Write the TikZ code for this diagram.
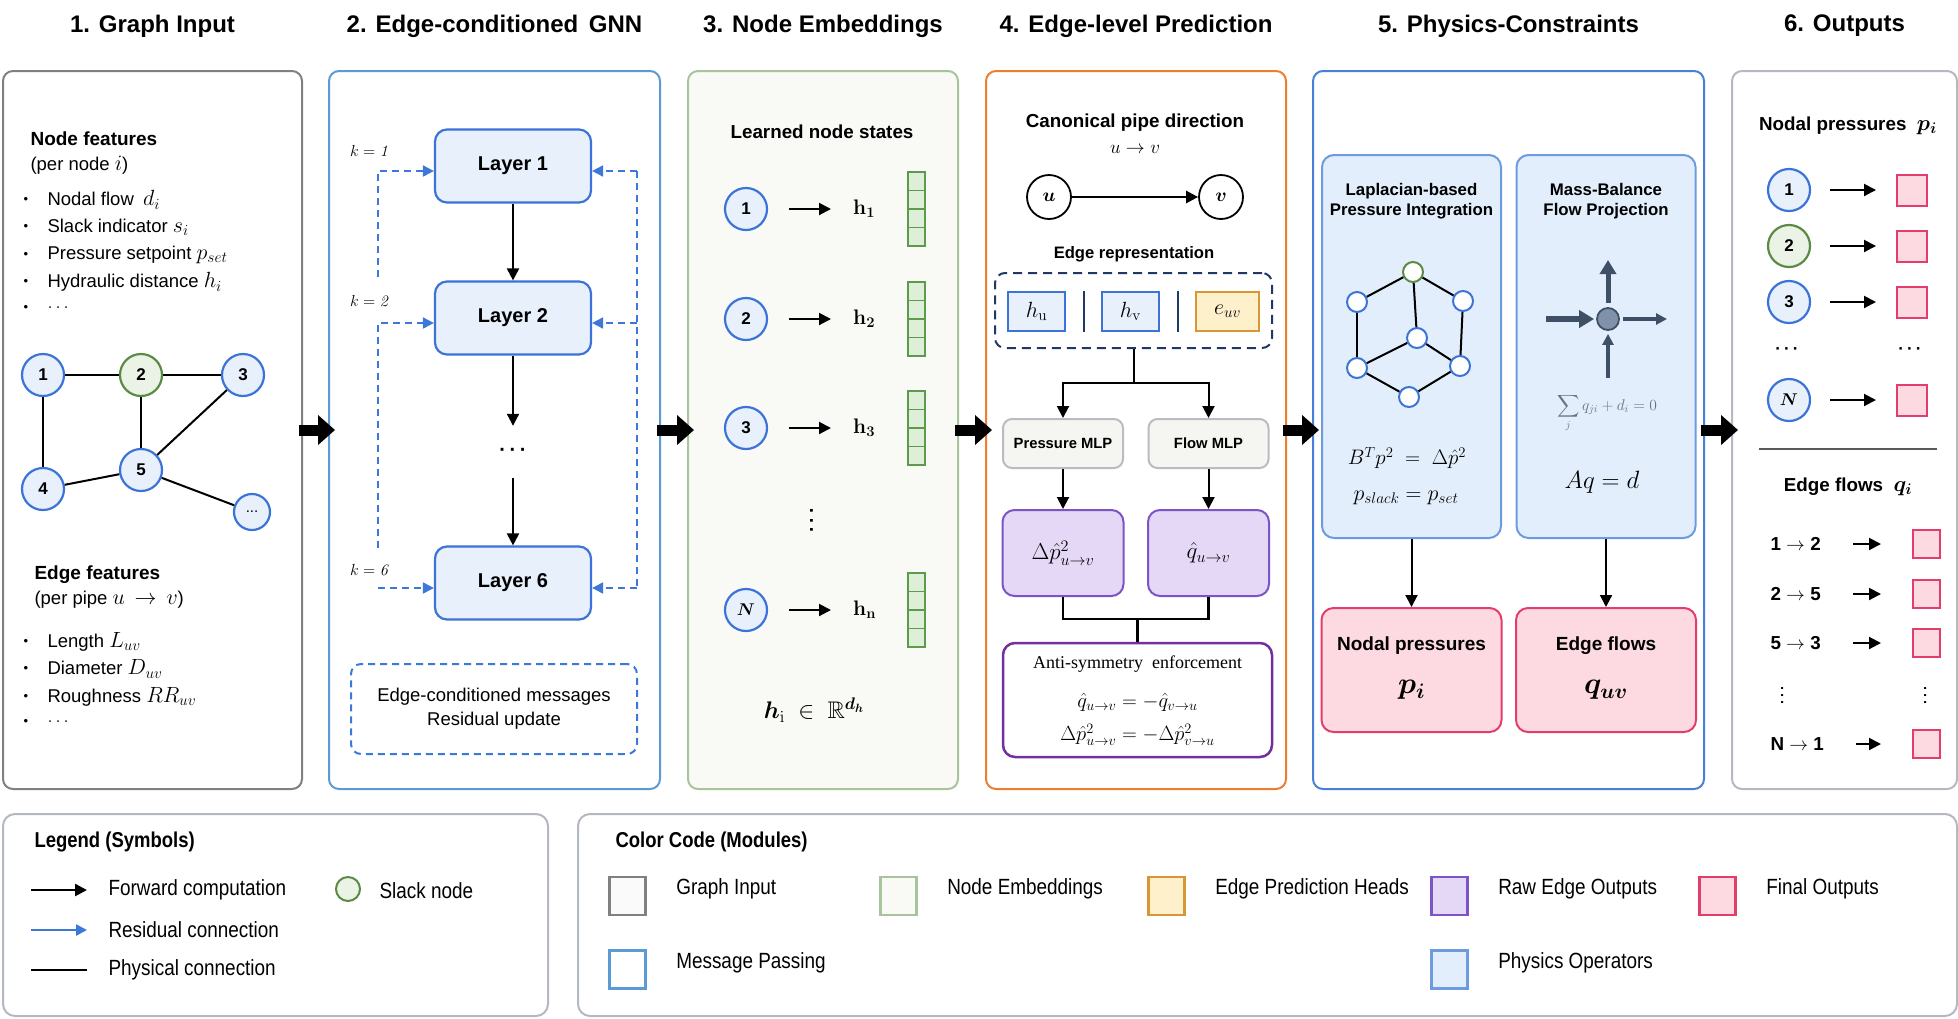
\RequirePackage{fix-cm}
\documentclass[tikz,border=0pt]{standalone}
\usepackage{amsmath}
\usepackage{amssymb}
\usepackage[no-math]{fontspec}
\setmainfont{Liberation Sans}
\newfontfamily\seriffont{Liberation Serif}
\newfontfamily\narrowsans[FakeStretch=0.86]{Liberation Sans}
\usepackage{tikz}
\usetikzlibrary{arrows.meta}
\usetikzlibrary{calc}
\usetikzlibrary{positioning}

\definecolor{inputgray}{HTML}{808080}
\definecolor{inputfill}{HTML}{FAFAFA}
\definecolor{mpblue}{HTML}{5B9BD5}
\definecolor{embgreen}{HTML}{A9C49A}
\definecolor{embfill}{HTML}{F9F9F6}
\definecolor{edgeorange}{HTML}{ED7D31}
\definecolor{physblue}{HTML}{4A7FD8}
\definecolor{outgray}{HTML}{B4B8C0}
\definecolor{nodeblue}{HTML}{3B73D9}
\definecolor{nodefill}{HTML}{E8F0FC}
\definecolor{resblue}{HTML}{3C78D8}
\definecolor{slackgreen}{HTML}{5B8A45}
\definecolor{slackfill}{HTML}{EBF3E6}
\definecolor{cellgreen}{HTML}{5E9A4E}
\definecolor{cellfill}{HTML}{DDEFD6}
\definecolor{mlpgray}{HTML}{B8BCC4}
\definecolor{mlpfill}{HTML}{F5F6F1}
\definecolor{rawpurple}{HTML}{7B55C6}
\definecolor{rawfill}{HTML}{E5D8F6}
\definecolor{antipurple}{HTML}{7030A0}
\definecolor{repnavy}{HTML}{1F3864}
\definecolor{headorange}{HTML}{D99634}
\definecolor{headfill}{HTML}{FFF0CC}
\definecolor{opblue}{HTML}{6C9BE0}
\definecolor{opfill}{HTML}{E3EEFC}
\definecolor{finalred}{HTML}{E43D6B}
\definecolor{finalfill}{HTML}{FDD9E1}
\definecolor{slate}{HTML}{3F4F66}
\definecolor{slatefill}{HTML}{8092AA}
\definecolor{sumgray}{HTML}{6B7280}
\definecolor{rulegray}{HTML}{595959}

\newcommand{\middots}{\textbf{·\kern0.18em·\kern0.18em·}}
\newcommand{\featmath}[1]{{\fontsize{22}{22}\selectfont$#1$}}

\begin{document}
\begin{tikzpicture}[x=1pt, y=-1pt,
  panel/.style={draw, line width=2pt, rounded corners=10pt, fill=white, inner sep=0pt, minimum height=718pt, anchor=north west},
  title/.style={font=\bfseries\fontsize{24}{28}\selectfont},
  head/.style={font=\bfseries\fontsize{19}{22}\selectfont},
  body/.style={font=\fontsize{18.5}{22}\selectfont},
  sub/.style={font=\bfseries\fontsize{18.8}{22}\selectfont},
  gnode/.style={circle, draw=nodeblue, fill=nodefill, line width=2.2pt, minimum size=42pt, inner sep=0pt, font=\bfseries\fontsize{17}{17}\selectfont},
  gslack/.style={gnode, draw=slackgreen, fill=slackfill},
  phys/.style={line width=2pt},
  fwd/.style={line width=2pt, -{Triangle[length=12pt,width=12pt]}},
  res/.style={draw=resblue, line width=2pt, dash pattern=on 7pt off 5pt},
  resarrow/.style={res, -{Triangle[length=11pt,width=11pt]}},
  layer/.style={rectangle, rounded corners=12pt, draw=nodeblue, fill=nodefill, line width=2.2pt, minimum width=156pt, minimum height=73pt, font=\bfseries\fontsize{20}{24}\selectfont},
  klab/.style={font=\fontsize{16}{18}\selectfont},
  dots/.style={inner sep=0pt, font=\fontsize{20}{20}\selectfont},
  cell/.style={rectangle, draw=cellgreen, fill=cellfill, line width=1.5pt, minimum width=17pt, minimum height=18.5pt, inner sep=0pt},
  hlab/.style={inner sep=0pt, font=\fontsize{21}{22}\selectfont},
  unode/.style={circle, draw=black, fill=white, line width=1.8pt, minimum size=44pt, inner sep=0pt, font=\fontsize{19}{19}\selectfont},
  hbox/.style={rectangle, draw=nodeblue, fill=nodefill, line width=2pt, minimum width=57pt, minimum height=39pt, inner sep=0pt, font=\fontsize{22}{22}\selectfont},
  ebox/.style={hbox, draw=headorange, fill=headfill, minimum width=63pt},
  mlp/.style={rectangle, rounded corners=9pt, draw=mlpgray, fill=mlpfill, line width=2pt, minimum width=120pt, minimum height=49pt, font=\bfseries\fontsize{14.8}{17}\selectfont},
  raw/.style={rectangle, rounded corners=12pt, draw=rawpurple, fill=rawfill, line width=2pt, minimum width=121pt, minimum height=86pt, font=\fontsize{23}{24}\selectfont},
  op/.style={rectangle, rounded corners=12pt, draw=opblue, fill=opfill, line width=2pt, minimum width=179pt, minimum height=383pt},
  optitle/.style={align=center, font=\bfseries\fontsize{16.8}{19.5}\selectfont},
  cnode/.style={circle, draw=nodeblue, fill=white, line width=2pt, minimum size=20pt, inner sep=0pt},
  final/.style={rectangle, rounded corners=12pt, draw=finalred, fill=finalfill, line width=2pt, minimum width=180pt, minimum height=124pt},
  sq/.style={rectangle, draw=finalred, fill=finalfill, line width=2pt, minimum width=30pt, minimum height=31pt, inner sep=0pt},
  bigarrow/.style={line width=11pt, -{Triangle[length=17pt,width=29pt]}},
  legbox/.style={rectangle, rounded corners=12pt, draw=outgray, fill=white, line width=2pt, inner sep=0pt, anchor=north west},
  legtitle/.style={font=\narrowsans\bfseries\fontsize{21.5}{24}\selectfont},
  legtext/.style={font=\narrowsans\fontsize{22}{24}\selectfont},
  swatch/.style={rectangle, line width=2.5pt, minimum width=36pt, minimum height=38pt, inner sep=0pt}]

\useasboundingbox (0,0) rectangle (1958,1018);

% panels and titles
\node[panel, draw=inputgray, minimum width=299pt] (p1) at (2,70) {};
\node[panel, draw=mpblue, minimum width=331pt] (p2) at (328,70) {};
\node[panel, draw=embgreen, fill=embfill, minimum width=270pt] (p3) at (687,70) {};
\node[panel, draw=edgeorange, minimum width=300pt] (p4) at (985,70) {};
\node[panel, draw=physblue, minimum width=391pt] (p5) at (1312,70) {};
\node[panel, draw=outgray, minimum width=225pt] (p6) at (1731,70) {};

\foreach \p/\t in {p1/{1. Graph Input}, p2/{2. Edge-conditioned\ \,GNN}, p3/{3. Node Embeddings},
  p4/{4. Edge-level Prediction}, p5/{5. Physics-Constraints}, p6/{6. Outputs}}
  \node[title] (t\p) at ([yshift=44pt]\p.north) {\t};

\foreach \a/\b in {p1/p2, p2/p3, p3/p4, p4/p5, p5/p6}
  \draw[bigarrow] ([xshift=-4pt]\a.east) -- ([xshift=7pt]\b.west);

% 1. graph input
\node[head, anchor=west] (nfeat) at (27,139) {Node features};
\node[body, anchor=west] (nper) at (27,165) {(per node \featmath{i})};
\foreach \k/\y/\t in {1/200/{Nodal flow\enspace \featmath{d_i}}, 2/227/{Slack indicator \featmath{s_i}},
  3/255/{Pressure setpoint \featmath{p_{set}}}, 4/282/{Hydraulic distance \featmath{h_i}}, 5/308/{$\ldots$}} {
  \node[font=\fontsize{13}{13}\selectfont] (nb\k) at (26,\y) {\textbullet};
  \node[body, anchor=west] (nt\k) at (44,\y) {\t};
}

\node[gnode] (g1) at (43,375) {1};
\node[gslack] (g2) at (141,375) {2};
\node[gnode] (g3) at (243,375) {3};
\node[gnode] (g4) at (43,489) {4};
\node[gnode] (g5) at (141,470) {5};
\node[gnode, minimum size=36pt, font=\fontsize{15}{15}\selectfont] (g6) at (252,512) {...};
\foreach \a/\b in {g1/g2, g2/g3, g1/g4, g2/g5, g5/g3, g4/g5, g5/g6}
  \draw[phys] (\a) -- (\b);

\node[head, anchor=west] (efeat) at (31,575) {Edge features};
\node[body, anchor=west] (eper) at (31,600) {(per pipe \featmath{u\,\rightarrow\,v})};
\foreach \k/\y/\t in {1/642/{Length \featmath{L_{uv}}}, 2/669/{Diameter \featmath{D_{uv}}},
  3/697/{Roughness \featmath{RR_{uv}}}, 4/722/{$\ldots$}} {
  \node[font=\fontsize{13}{13}\selectfont] (eb\k) at (26,\y) {\textbullet};
  \node[body, anchor=west] (et\k) at (44,\y) {\t};
}

% 2. edge-conditioned gnn
\node[layer] (l1) at (513,166) {Layer 1};
\node[layer] (l2) at (513,318) {Layer 2};
\node[dots, minimum height=52pt] (ldots) at (513,452) {\middots};
\node[layer] (l6) at (513,583) {Layer 6};
\draw[fwd] (l1) -- (l2);
\draw[fwd] (l2) -- (ldots);
\draw[fwd] (ldots) -- (l6);

\node[klab] (k1) at (370,151) {$k = \mathit{1}$};
\node[klab] (k2) at (370,301) {$k = \mathit{2}$};
\node[klab] (k6) at (370,570) {$k = \mathit{6}$};

\coordinate (a1) at ([yshift=-5pt]l1.west);
\coordinate (a2) at ([yshift=-5pt]l2.west);
\coordinate (a6) at ([yshift=-5pt]l6.west);
\coordinate (b1) at ([yshift=-5pt]l1.east);
\coordinate (b2) at ([yshift=-5pt]l2.east);
\coordinate (b6) at ([yshift=-5pt]l6.east);
\coordinate (k1s) at (378,277);
\coordinate (k2s) at (378,548);
\coordinate (k6s) at (378,588);
\coordinate (rtop) at (637,171);
\draw[resarrow] (k1s) |- (a1);
\draw[resarrow] (k2s) |- (a2);
\draw[resarrow] (k6s) -- (a6);
\draw[res] (rtop) -- (b6 -| rtop);
\draw[resarrow] (b1 -| rtop) -- (b1);
\draw[resarrow] (b2 -| rtop) -- (b2);
\draw[resarrow] (b6 -| rtop) -- (b6);

\node[rectangle, rounded corners=10pt, res, minimum width=286pt, minimum height=90pt, align=center,
  font=\fontsize{18.5}{24}\selectfont] (msg) at (494,709) {Edge-conditioned messages\\Residual update};

% 3. node embeddings
\node[sub] (lns) at (822,132) {Learned node states};
\foreach \i/\y/\lab in {1/209/1, 2/319/2, 3/428/3, n/610/{$\boldsymbol{N}$}} {
  \node[gnode] (e\i) at (746,\y) {\lab};
  \node[hlab, anchor=west] (h\i) at (853,\y) {$\mathbf{h}_{\mathbf{\i}}$};
  \draw[fwd, shorten <=21pt, shorten >=22pt] (e\i) -- (h\i);
  \foreach \c in {0,1,2,3}
    \node[cell] (v\i-\c) at (916.5,\y-27.75+18.5*\c) {};
}
\node[dots, rotate=90, font=\fontsize{19}{19}\selectfont] (edots) at (814,520) {\middots};
\node[font=\fontsize{24}{26}\selectfont] (hdim) at (814,710) {$\boldsymbol{h}_{\mathrm{i}}\;\in\;\mathbb{R}^{\boldsymbol{d_h}}$};

% 4. edge-level prediction
\node[sub] (cpd) at (1135,123) {Canonical pipe direction};
\node[font=\fontsize{19}{19}\selectfont] (uvdir) at (1135,149) {$u \rightarrow v$};
\node[unode] (u) at (1049,197) {$\boldsymbol{u}$};
\node[unode] (v) at (1221,197) {$\boldsymbol{v}$};
\draw[fwd, line width=2.5pt] (u) -- (v);

\node[font=\bfseries\fontsize{16.6}{20}\selectfont] (erep) at (1134,254) {Edge representation};
\node[rectangle, rounded corners=10pt, draw=repnavy, line width=2pt, dash pattern=on 9pt off 6pt,
  minimum width=277pt, minimum height=75pt] (rep) at (1133.5,310.5) {};
\node[hbox] (hu) at (1036.5,311.5) {$h_{\mathrm{u}}$};
\node[hbox] (hv) at (1130.5,311.5) {$h_{\mathrm{v}}$};
\node[ebox] (euv) at (1227.5,311.5) {$e_{uv}$};
\draw[repnavy, line width=2pt] ($(hu.east)!.5!(hv.west)$) ++(0,-21) -- ++(0,41);
\draw[repnavy, line width=2pt] ($(hv.east)!.5!(euv.west)$) ++(0,-21) -- ++(0,41);

\node[mlp] (pmlp) at (1063,443.5) {Pressure MLP};
\node[mlp] (fmlp) at (1208.5,443.5) {Flow MLP};
\coordinate (split) at (1133.5,383);
\draw[line width=2pt] (rep.south) -- (split);
\draw[fwd] (split) -| (pmlp.north);
\draw[fwd] (split) -| (fmlp.north);

\node[raw] (praw) at (1063,553) {$\Delta\hat{p}^{2}_{u\to v}$};
\node[raw] (fraw) at (1208.5,553) {$\hat{q}_{u\to v}$};
\draw[fwd] (pmlp) -- (praw);
\draw[fwd] (fmlp) -- (fraw);

\node[rectangle, rounded corners=12pt, draw=antipurple, fill=white, line width=2.5pt,
  minimum width=269pt, minimum height=114pt] (anti) at (1137.5,700) {};
\coordinate (join) at (1137,619);
\draw[line width=2.5pt] (praw.south) |- (join) -| (fraw.south);
\draw[line width=3pt] (join) -- (anti.north -| join);
\node[font=\seriffont\fontsize{18}{20}\selectfont] (antit) at (1137.5,664) {Anti-symmetry\enspace enforcement};
\node[font=\fontsize{20.5}{21}\selectfont, inner sep=1pt] (anteq1) at (1137.5,702) {$\hat{q}_{u\to v} = -\hat{q}_{v\to u}$};
\node[font=\fontsize{20.5}{21}\selectfont, inner sep=1pt] (anteq2) at (1137.5,735) {$\Delta\hat{p}^{2}_{u\to v} = -\Delta\hat{p}^{2}_{v\to u}$};

% 5. physics constraints
\node[op] (lap) at (1411.5,346.5) {};
\node[op] (mass) at (1606,346.5) {};
\node[optitle] (lapt) at (1411.5,201) {Laplacian-based\\Pressure Integration};
\node[optitle] (masst) at (1606,201) {Mass-Balance\\Flow Projection};

\node[cnode, draw=slackgreen] (c0) at (1413,272) {};
\node[cnode] (c1) at (1357,302) {};
\node[cnode] (c2) at (1463,301) {};
\node[cnode] (c3) at (1417,338) {};
\node[cnode] (c4) at (1357,368) {};
\node[cnode] (c5) at (1460,366) {};
\node[cnode] (c6) at (1409,397) {};
\foreach \a/\b in {c0/c1, c0/c2, c0/c3, c1/c4, c2/c5, c3/c4, c3/c5, c4/c6, c5/c6}
  \draw[phys] (\a) -- (\b);
\node[font=\fontsize{21}{22}\selectfont] (btp) at (1407,458) {$B^{T}p^{2} \;=\; \Delta\hat{p}^{2}$};
\node[font=\fontsize{22}{22}\selectfont] (pslack) at (1406,498) {$p_{slack} = p_{set}$};

\node[circle, minimum size=22pt, inner sep=0pt, fill=slatefill, draw=slate, line width=1.8pt] (mb) at (1608,319) {};
\coordinate (mbl) at (1546,319);
\coordinate (mbr) at (1667,319);
\coordinate (mbu) at (1608,260);
\coordinate (mbd) at (1608,378);
\draw[slate, line width=6pt, -{Triangle[length=15pt,width=17pt]}, shorten >=2pt] (mbl) -- (mb);
\draw[slate, line width=3.5pt, -{Triangle[length=11pt,width=11pt]}, shorten <=3pt] (mb) -- (mbr);
\draw[slate, line width=5pt, -{Triangle[length=14pt,width=16pt]}, shorten <=4pt] (mb) -- (mbu);
\draw[slate, line width=3.5pt, -{Triangle[length=11pt,width=11pt]}, shorten >=3pt] (mbd) -- (mb);
\node[text=sumgray, font=\fontsize{15.5}{16}\selectfont] (sumq) at (1607,413) {$\displaystyle\sum_{j} q_{ji} + d_i = 0$};
\node[font=\fontsize{25}{26}\selectfont] (aqd) at (1602,482) {$Aq = d$};

\node[final] (np) at (1411.5,670) {};
\node[final] (ef) at (1606,670) {};
\draw[fwd] (lap) -- (np);
\draw[fwd] (mass) -- (ef);
\node[head] (npt) at (1411.5,646) {Nodal pressures};
\node[font=\fontsize{30}{30}\selectfont] (npp) at (1411.5,690) {$\boldsymbol{p_i}$};
\node[head] (eft) at (1606,646) {Edge flows};
\node[font=\fontsize{30}{30}\selectfont] (efq) at (1606,690) {$\boldsymbol{q_{uv}}$};

% 6. outputs
\node[sub] (ont) at (1848,126) {Nodal pressures\; \featmath{\boldsymbol{p_i}}};
\foreach \n/\y/\lab/\sty in {1/190/1/gnode, 2/246/2/gslack, 3/302/3/gnode, n/400/{$\boldsymbol{N}$}/gnode} {
  \node[\sty] (o\n) at (1789,\y) {\lab};
  \node[sq] (s\n) at (1912,\y) {};
  \draw[fwd, shorten <=19pt, shorten >=20pt] (o\n) -- (s\n);
}
\node[dots, font=\fontsize{17}{17}\selectfont] (od1) at (1787,351) {\middots};
\node[dots, font=\fontsize{17}{17}\selectfont] (od2) at (1910,351) {\middots};
\draw[rulegray, line width=2pt] (1759,449) -- (1937,449);

\node[sub] (oft) at (1848,487) {Edge flows\; \featmath{\boldsymbol{q_i}}};
\foreach \k/\y/\t in {1/544/{1 $\rightarrow$ 2}, 2/594/{2 $\rightarrow$ 5}, 3/643/{5 $\rightarrow$ 3}, 4/744/{N $\rightarrow$ 1}} {
  \node[sub, anchor=west] (f\k) at (1767,\y) {\t};
  \node[sq, minimum width=27pt, minimum height=28pt] (q\k) at (1926.5,\y) {};
  \draw[fwd, shorten <=29pt, shorten >=31pt] (f\k) -- (q\k);
}
\node[dots, rotate=90, font=\fontsize{14}{14}\selectfont] (fd1) at (1784,695) {\middots};
\node[dots, rotate=90, font=\fontsize{14}{14}\selectfont] (fd2) at (1927,695) {\middots};

% legend
\node[legbox, minimum width=545pt, minimum height=202pt] (leg) at (2,813) {};
\node[legtitle, anchor=west] (legt) at (31,842) {Legend (Symbols)};
\coordinate (fa) at (31,890);
\coordinate (fb) at (87,890);
\coordinate (ra) at (31,930);
\coordinate (rb) at (87,930);
\coordinate (pa) at (31,970);
\coordinate (pb) at (87,970);
\draw[fwd, line width=2.5pt] (fa) -- (fb);
\draw[resblue, line width=2.5pt, -{Triangle[length=11pt,width=11pt]}] (ra) -- (rb);
\draw[line width=2.5pt] (pa) -- (pb);
\node[legtext, right=18pt of fb] (fwdt) {Forward computation};
\node[legtext, right=18pt of rb] (rest) {Residual connection};
\node[legtext, right=18pt of pb] (phyt) {Physical connection};
\node[gslack, minimum size=24pt, line width=2pt] (legslack) at (348,889) {};
\node[legtext, anchor=west] (slackt) at (376,891) {Slack node};

\node[legbox, minimum width=1379pt, minimum height=202pt] (cc) at (577,813) {};
\node[legtitle, anchor=west] (cct) at (612,842) {Color Code (Modules)};
\foreach \nm/\x/\y/\fc/\dc/\t in {gi/627.5/896/inputfill/inputgray/{Graph Input},
  ne/898.5/896/embfill/embgreen/{Node Embeddings},
  eh/1166.5/896/headfill/headorange/{Edge Prediction Heads},
  re/1449.5/896/rawfill/rawpurple/{Raw Edge Outputs},
  fo/1717.5/896/finalfill/finalred/{Final Outputs},
  mp/627.5/969.5/white/mpblue/{Message Passing},
  po/1449.5/969.5/opfill/opblue/{Physics Operators}} {
  \node[swatch, fill=\fc, draw=\dc] (sw\nm) at (\x,\y) {};
  \node[legtext, anchor=west] (sl\nm) at ([xshift=26pt, yshift=7pt]sw\nm.east) {\t};
}
\end{tikzpicture}
\end{document}
